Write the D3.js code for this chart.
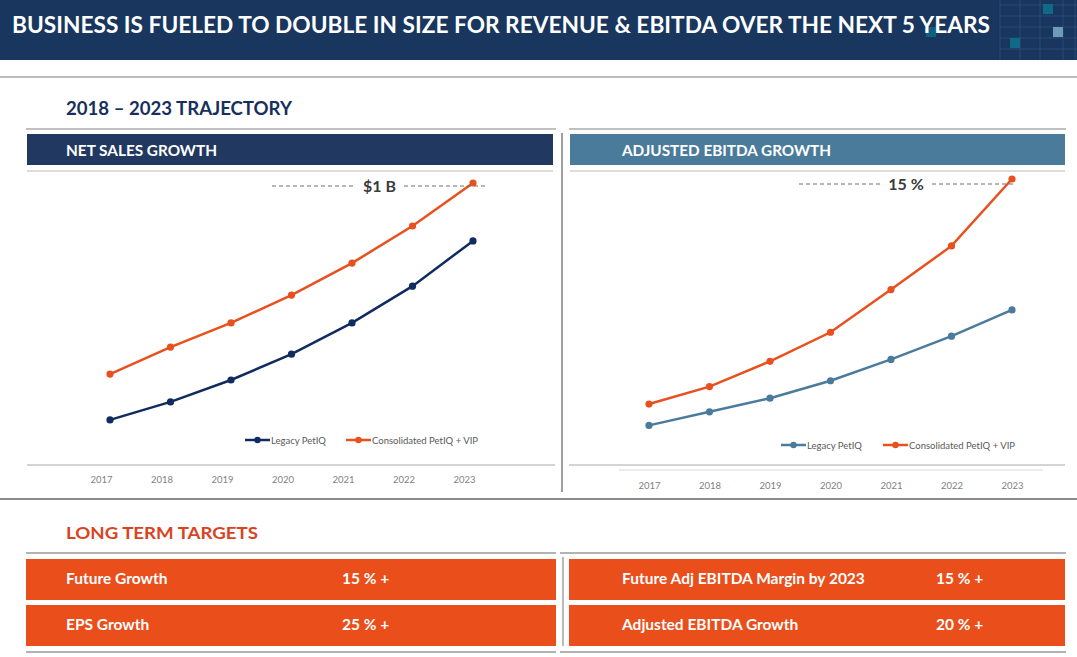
<!DOCTYPE html>
<html><head><meta charset="utf-8">
<script src="https://cdn.jsdelivr.net/npm/d3@7"></script>
<style>body{margin:0;background:#fff;}svg{display:block;font-family:Lato,'Open Sans',sans-serif;}</style>
</head><body>
<script>
const years = ["2017","2018","2019","2020","2021","2022","2023"];
const netSalesLegacy = [157, 221, 299, 391, 502, 633, 794];
const netSalesConsolidated = [320, 416, 502, 601, 715, 847, 1000];
const ebitdaLegacy = [2.3, 3.0, 3.7, 4.6, 5.7, 6.9, 8.25];
const ebitdaConsolidated = [3.4, 4.3, 5.6, 7.1, 9.3, 11.55, 15];
const seriesNames = ["Legacy PetIQ", "Consolidated PetIQ + VIP"];
const targetsLeft = [["Future Growth", "15 % +"], ["EPS Growth", "25 % +"]];
const targetsRight = [["Future Adj EBITDA Margin by 2023", "15 % +"], ["Adjusted EBITDA Growth", "20 % +"]];

const W = 1077, H = 657;
const svg = d3.select("body").append("svg").attr("width", W).attr("height", H);
const ORANGE = "#e8501e", NAVY = "#0f2b5f", STEEL = "#4b7b9c";

// Header band
svg.append("rect").attr("x",0).attr("y",0).attr("width",W).attr("height",60).attr("fill","#18365e");
const g0 = svg.append("g");
[1000,1020,1040,1063,1075].forEach(x=>g0.append("line").attr("x1",x).attr("x2",x).attr("y1",0).attr("y2",60).attr("stroke","#2a4a75").attr("stroke-width",1));
[5,16,27,38,49].forEach(y=>g0.append("line").attr("x1",1000).attr("x2",W).attr("y1",y).attr("y2",y).attr("stroke","#2a4a75").attr("stroke-width",1));
[[1043,4,"#0f6a88"],[1053,27,"#6d9cb9"],[1010,38,"#0f6a88"],[926,27,"#0f5f80"]].forEach(s=>g0.append("rect").attr("x",s[0]).attr("y",s[1]).attr("width",10).attr("height",10).attr("fill",s[2]));
svg.append("text").attr("x",12).attr("y",33).attr("fill","#fff").attr("font-weight",700).attr("font-size",23.5)
  .attr("textLength",978).attr("lengthAdjust","spacingAndGlyphs")
  .text("BUSINESS IS FUELED TO DOUBLE IN SIZE FOR REVENUE & EBITDA OVER THE NEXT 5 YEARS");

function hline(x1,x2,y,c,w){svg.append("line").attr("x1",x1).attr("x2",x2).attr("y1",y).attr("y2",y).attr("stroke",c).attr("stroke-width",w||1.5);}
function vline(x,y1,y2,c,w){svg.append("line").attr("x1",x).attr("x2",x).attr("y1",y1).attr("y2",y2).attr("stroke",c).attr("stroke-width",w||1.5);}

hline(0,W,77,"#a6a6a6",1.5);
svg.append("text").attr("x",66).attr("y",115).attr("fill","#172f5c").attr("font-weight",700).attr("font-size",18)
  .attr("textLength",226).attr("lengthAdjust","spacingAndGlyphs").text("2018 – 2023 TRAJECTORY");
hline(26,556,129,"#c0c0c0",2);
hline(569,1066,129,"#c0c0c0",2);
vline(562,133,492,"#7f7f7f",1.5);

svg.append("rect").attr("x",27).attr("y",134).attr("width",526).attr("height",31).attr("fill","#213961");
svg.append("text").attr("x",66).attr("y",156).attr("fill","#fff").attr("font-weight",700).attr("font-size",15)
  .attr("textLength",151).attr("lengthAdjust","spacingAndGlyphs").text("NET SALES GROWTH");
svg.append("rect").attr("x",570).attr("y",134).attr("width",495).attr("height",31).attr("fill","#4a7b9a");
svg.append("text").attr("x",622).attr("y",156).attr("fill","#fff").attr("font-weight",700).attr("font-size",15)
  .attr("textLength",209).attr("lengthAdjust","spacingAndGlyphs").text("ADJUSTED EBITDA GROWTH");
hline(27,553,171,"#d0d0d0",1.5);
hline(570,1065,171,"#d0d0d0",1.5);

hline(27,555,465,"#d4d4d4",2);
hline(569,1065,465,"#d4d4d4",2);
hline(619,1043,470,"#e6e6e6",1.5);
hline(0,W,499,"#8c8c8c",2);

function drawChart(opt){
  const x = d3.scalePoint().domain(years).range(opt.xr);
  const y = d3.scaleLinear().domain(opt.yd).range(opt.yr);
  const g = svg.append("g");
  const axis = d3.axisBottom(x).tickSize(0).tickPadding(0);
  const ag = g.append("g").attr("transform",`translate(${opt.labelDx},${opt.labelY})`).call(axis);
  ag.select(".domain").remove();
  ag.selectAll("text").attr("fill","#7f7f7f").attr("font-size",9.5).attr("font-family","Lato,sans-serif").attr("dy",0);
  const line = d3.line().x((d,i)=>x(years[i])).y(d=>y(d));
  [[opt.s1,opt.c1],[opt.s2,ORANGE]].forEach(([s,c])=>{
    g.append("path").datum(s).attr("d",line).attr("fill","none").attr("stroke",c).attr("stroke-width",2.5);
    g.selectAll(null).data(s).enter().append("circle").attr("cx",(d,i)=>x(years[i])).attr("cy",d=>y(d)).attr("r",3.6).attr("fill",c);
  });
  const ay = y(opt.yd[1]) + opt.annDy;
  const xEnd = x(years[years.length-1]);
  g.append("line").attr("x1",opt.ann[0]).attr("x2",opt.ann[1]).attr("y1",ay).attr("y2",ay).attr("stroke","#6f6f6f").attr("stroke-dasharray","4,3").attr("stroke-width",1);
  g.append("line").attr("x1",opt.ann[2]).attr("x2",xEnd+ (opt.annExtra||0)).attr("y1",ay).attr("y2",ay).attr("stroke","#6f6f6f").attr("stroke-dasharray","4,3").attr("stroke-width",1);
  g.append("text").attr("x",(opt.ann[1]+opt.ann[2])/2).attr("y",ay+6).attr("text-anchor","middle").attr("fill","#3b3b3b")
    .attr("font-weight",700).attr("font-size",16).text(opt.annText);
  const lg = g.append("g").attr("transform",`translate(0,${opt.legY})`);
  [[opt.c1,seriesNames[0],opt.leg[0]],[ORANGE,seriesNames[1],opt.leg[1]]].forEach(([c,t,lx])=>{
    lg.append("line").attr("x1",lx).attr("x2",lx+25).attr("y1",0).attr("y2",0).attr("stroke",c).attr("stroke-width",2.5);
    lg.append("circle").attr("cx",lx+12.5).attr("cy",0).attr("r",3.2).attr("fill",c);
    lg.append("text").attr("x",lx+26).attr("y",3.5).attr("fill","#595959").attr("font-size",9.5).text(t);
  });
}

drawChart({xr:[110,473], yd:[0,1000], yr:[464,183], s1:netSalesLegacy, s2:netSalesConsolidated, c1:NAVY,
  labelDx:-9, labelY:483, ann:[272,355,404], annDy:3, annExtra:15, annText:"$1 B", legY:440, leg:[245,346]});
drawChart({xr:[649,1012], yd:[0,15], yr:[470,179], s1:ebitdaLegacy, s2:ebitdaConsolidated, c1:STEEL,
  labelDx:0, labelY:489, ann:[799,880,932], annDy:5, annExtra:1, annText:"15 %", legY:445, leg:[781,883]});

svg.append("text").attr("x",66).attr("y",539).attr("fill","#d9441f").attr("font-weight",700).attr("font-size",17.5)
  .attr("textLength",192).attr("lengthAdjust","spacingAndGlyphs").text("LONG TERM TARGETS");
hline(26,556,553,"#b3b3b3",2);
hline(560,1066,553,"#b3b3b3",2);
vline(563,557,646,"#8c8c8c",1.2);
hline(26,556,652,"#b3b3b3",2);
hline(560,1066,652,"#b3b3b3",2);

const rowY = [559, 605];
function targets(list, x0, w, tx, vx){
  list.forEach((r,i)=>{
    svg.append("rect").attr("x",x0).attr("y",rowY[i]).attr("width",w).attr("height",41).attr("fill","#e94e1b");
    svg.append("text").attr("x",tx).attr("y",rowY[i]+25).attr("fill","#fff").attr("font-weight",700).attr("font-size",15.5).text(r[0]);
    svg.append("text").attr("x",vx).attr("y",rowY[i]+25).attr("fill","#fff").attr("font-weight",700).attr("font-size",15.5).text(r[1]);
  });
}
targets(targetsLeft, 26, 530, 66, 342);
targets(targetsRight, 569, 496, 622, 936);
</script>
</body></html>
